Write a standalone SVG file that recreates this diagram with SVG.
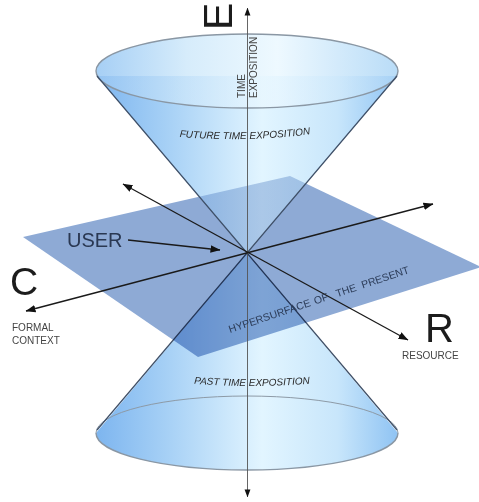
<svg xmlns="http://www.w3.org/2000/svg" width="479" height="502" viewBox="0 0 479 502">
<defs>
<linearGradient id="gBody" x1="96" y1="0" x2="398" y2="0" gradientUnits="userSpaceOnUse">
<stop offset="0" stop-color="#7db5ef"/>
<stop offset="0.25" stop-color="#a9d2f6"/>
<stop offset="0.55" stop-color="#e2f5ff"/>
<stop offset="0.8" stop-color="#c8e6fb"/>
<stop offset="1" stop-color="#8fc3f3"/>
</linearGradient>
<linearGradient id="gTop" x1="96" y1="0" x2="398" y2="0" gradientUnits="userSpaceOnUse">
<stop offset="0" stop-color="#a6cff5"/>
<stop offset="0.3" stop-color="#d6ecfb"/>
<stop offset="0.6" stop-color="#eef9ff"/>
<stop offset="1" stop-color="#b9dcf7"/>
</linearGradient>
<marker id="ah" viewBox="0 0 10 10" refX="9.5" refY="5" markerWidth="10" markerHeight="10" markerUnits="userSpaceOnUse" orient="auto-start-reverse">
<path d="M0,1.3 L10,5 L0,8.7 Z" fill="#111"/>
</marker>
<marker id="ahs" viewBox="0 0 10 10" refX="9.5" refY="5" markerWidth="8" markerHeight="8" markerUnits="userSpaceOnUse" orient="auto-start-reverse">
<path d="M0,1.3 L10,5 L0,8.7 Z" fill="#111"/>
</marker>
<path id="arcFuture" d="M170,136 Q244,143.5 320,133"/>
<path id="arcPast" d="M186,383 Q250,389 318,383"/>
</defs>
<style>
.edge{fill:none;stroke:#3f5068;stroke-width:1.2}
.rim{fill:none;stroke:#8a97a4;stroke-width:1.4}
.ax{fill:none;stroke:#1a1a1a;stroke-width:1.3}
.big{font-family:"Liberation Sans",Arial,sans-serif;fill:#1c1c1c}
.small{font-family:"Liberation Sans",Arial,sans-serif;font-size:10px;fill:#444}
.cone{font-family:"Liberation Sans",Arial,sans-serif;font-size:10px;font-style:italic;fill:#2a2a2a}
</style>
<rect width="479" height="502" fill="#ffffff"/>

<g id="cone-past">
<path d="M247,253 L96,433 A151,37 0 0 0 398,433 Z" fill="url(#gBody)"/>
<path d="M96,433 A151,37 0 0 0 398,433" class="rim"/>
<path d="M96,433 A151,37 0 0 1 398,433" fill="none" stroke="#8d9aa6" stroke-width="1"/>
<path d="M97,430 L247,253 L397,430" class="edge"/>
</g>

<g id="cone-future-base">
<path d="M97,76 L247,253 L397,76 Z" fill="url(#gBody)"/>
<ellipse cx="247" cy="71" rx="151" ry="37" fill="url(#gTop)"/>
</g>

<g id="plane">
<polygon points="23,237 290,176 481,267 198,357" fill="#8eaad5" style="mix-blend-mode:multiply"/>
</g>

<g id="cone-future" >
<g opacity="0.45">
<path d="M97,76 L247,253 L397,76 Z" fill="url(#gBody)"/>
</g>
<ellipse cx="247" cy="71" rx="151" ry="37" class="rim"/>
<path d="M97,76 L247,253 L397,76" class="edge"/>
</g>

<g id="connectors">
<line id="axis-e" x1="247.5" y1="497" x2="247.5" y2="8" stroke="#555" stroke-width="0.9" marker-start="url(#ahs)" marker-end="url(#ahs)"/>
<line id="axis-c" x1="26" y1="311" x2="433" y2="204" class="ax" marker-start="url(#ah)" marker-end="url(#ah)"/>
<line id="axis-r" x1="123" y1="184" x2="408" y2="340" class="ax" marker-start="url(#ah)" marker-end="url(#ah)"/>
<line id="user-arrow" x1="128" y1="240" x2="220" y2="250" class="ax" marker-end="url(#ah)"/>
</g>

<g id="label-e">
<text class="big" font-size="41" transform="translate(232,30) rotate(-90)">E</text>
<text class="small" font-size="9.5" transform="translate(245,98) rotate(-90)">TIME</text>
<text class="small" font-size="9.5" transform="translate(257,98) rotate(-90)">EXPOSITION</text>
</g>

<g id="label-future">
<text class="cone"><textPath href="#arcFuture" startOffset="50%" text-anchor="middle">FUTURE TIME EXPOSITION</textPath></text>
</g>

<g id="label-past">
<text class="cone"><textPath href="#arcPast" startOffset="50%" text-anchor="middle">PAST TIME EXPOSITION</textPath></text>
</g>

<g id="label-user">
<text x="67" y="247" font-family="Liberation Sans, Arial, sans-serif" font-size="20" fill="#2a3852">USER</text>
</g>

<g id="label-c">
<text class="big" x="10" y="295" font-size="39">C</text>
<text class="small" x="12" y="331">FORMAL</text>
<text class="small" x="12" y="344">CONTEXT</text>
</g>

<g id="label-r">
<text class="big" x="425" y="342" font-size="40">R</text>
<text class="small" x="402" y="359">RESOURCE</text>
</g>

<g id="label-hypersurface">
<text font-family="Liberation Sans, Arial, sans-serif" font-size="10.5" fill="#2c3c58" transform="rotate(-18.5 230 333)"><tspan x="230" y="333">HYPERSURFACE</tspan><tspan x="320" y="333">OF</tspan><tspan x="343" y="333">THE</tspan><tspan x="370" y="333">PRESENT</tspan></text>
</g>
</svg>
